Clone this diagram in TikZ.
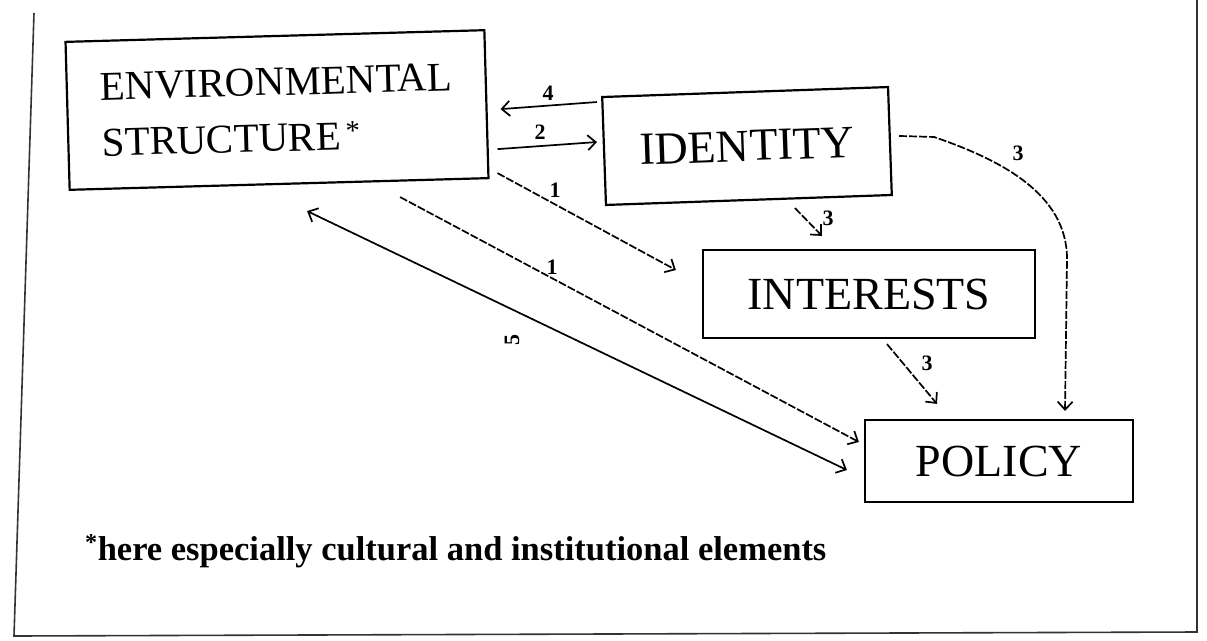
\documentclass[tikz,border=0pt]{standalone}
\usepackage{fontspec}
\setmainfont{Liberation Serif}
\usetikzlibrary{arrows.meta,calc}
\begin{document}
\begin{tikzpicture}[x=1pt,y=-1pt,
  box/.style={draw,line width=2.2pt,inner sep=0pt,align=center},
  conn/.style={line width=1.7pt,-{Straight Barb[length=8pt,width=15pt]}},
  dsh/.style={dash pattern=on 8pt off 2pt},
  num/.style={font=\fontsize{22}{22}\selectfont\bfseries,inner sep=0pt},
  bigtext/.style={font=\fontsize{46}{46}\selectfont}]
\useasboundingbox (0,0) rectangle (1207,640);
% frame
\coordinate (ftl) at (34,13);
\coordinate (fbl) at (14,636);
\coordinate (fbr) at (1197,632);
\coordinate (ftr) at (1197,0);
\draw[line width=1.6pt,black!80] (ftl) -- (fbl) -- (fbr) -- (ftr);
% boxes
\node[box,minimum width=419pt,minimum height=148pt,rotate=1.6,align=left,
      font=\fontsize{41}{56}\selectfont] (env) at (277,110)
      {ENVIRONMENTAL\\STRUCTURE\textsuperscript{\,*}};
\node[box,minimum width=286pt,minimum height=108pt,rotate=2,bigtext] (ident) at (747,146) {IDENTITY};
\node[box,minimum width=332pt,minimum height=88pt,bigtext] (inter) at (869,294) {INTERESTS};
\node[box,minimum width=268pt,minimum height=82pt,bigtext] (pol) at (999,461) {POLICY};
% connectors
\draw[conn] ($(ident.west)+(-6,-49)$) -- ($(env.east)+(13,5)$);
\draw[conn] ($(env.east)+(10,45)$) -- ($(ident.west)+(-6,-9)$);
\draw[conn,dsh] ($(env.east)+(10,69)$) -- ($(inter.west)+(-26,-24)$);
\draw[conn,dsh] ($(ident.south)+(46,7)$) -- ($(inter.north)+(-47,-13)$);
\draw[conn,dsh] ($(ident.east)+(8,-5)$) -- ($(ident.east)+(43,-4)$)
   .. controls ($(ident.east)+(110,19)$) and ($(pol.north)+(68,-225)$) .. ($(pol.north)+(68,-160)$)
   -- ($(pol.north)+(66,-8)$);
\draw[conn,dsh] ($(inter.south)+(18,5)$) -- ($(pol.north)+(-62,-15)$);
\draw[conn,dsh] ($(env.south)+(121,12)$) -- ($(pol.west)+(-5,-19)$);
\draw[conn,{Straight Barb[length=8pt,width=15pt]}-{Straight Barb[length=8pt,width=15pt]}]
   ($(env.south)+(28,26)$) -- ($(pol.west)+(-17,9)$);
% labels
\node[num] (l4) at (548,93) {4};
\node[num] (l2) at (540,132) {2};
\node[num] (l1a) at (555,190) {1};
\node[num] (l3a) at (828,218) {3};
\node[num] (l3b) at (1018,153) {3};
\node[num] (l3c) at (927,363) {3};
\node[num] (l1b) at (552,267) {1};
\node[num,rotate=90] (l5) at (512,340) {5};
% footnote
\node[font=\fontsize{34.5}{34.5}\selectfont\bfseries,anchor=base west,inner sep=0pt] (fn) at (85,560)
   {\textsuperscript{*}here especially cultural and institutional elements};
\end{tikzpicture}
\end{document}
